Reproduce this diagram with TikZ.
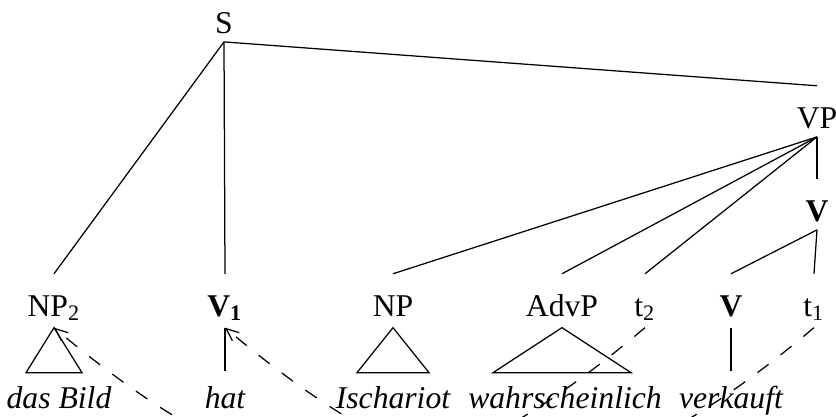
\documentclass[tikz,border=0pt]{standalone}
\usepackage{fontspec}
\setmainfont{Liberation Serif}
\usetikzlibrary{arrows.meta}
\newcommand{\treefont}{\fontsize{11.4}{14}\selectfont}
\tikzstyle{cat} = [inner sep=0pt, anchor=base, text height=15pt, text depth=3pt, font=\treefont]
\tikzstyle{leafcat} = [cat, text depth=4pt]
\tikzstyle{word} = [inner sep=0pt, anchor=base, text height=13pt, text depth=0pt, font=\treefont\itshape]
\tikzstyle{branch} = [line width=0.45pt]
\tikzstyle{movement} = [line width=0.45pt, -{Straight Barb[length=4.5pt, width=3.8pt]}, dash pattern=on 5pt off 5.5pt]

\begin{document}
\begin{tikzpicture}[x=0.36pt, y=-0.36pt]
    \useasboundingbox (0,0) rectangle (836,417);
    \clip (0,0) rectangle (836,417);

    % Upper categories
    \node[cat] (s) at (224,33) {S};
    \node[cat] (vp) at (817,128) {VP};
    \node[cat] (vbar) at (817,221) {\textbf{V}};

    % Lower categories
    \node[leafcat] (np2) at (54,316) {NP\textsubscript{2}};
    \node[leafcat] (v1) at (225,316) {\textbf{V\textsubscript{1}}};
    \node[leafcat] (np) at (393,316) {NP};
    \node[leafcat] (advp) at (562,316) {AdvP};
    \node[leafcat] (t2) at (645,316) {t\textsubscript{2}};
    \node[leafcat] (v) at (731,316) {\textbf{V}};
    \node[leafcat] (t1) at (814,316) {t\textsubscript{1}};

    % Words
    \node[word] (dasbild) at (59,408) {das Bild};
    \node[word] (hat) at (225,408) {hat};
    \node[word] (ischariot) at (393,408) {Ischariot};
    \node[word] (wahrscheinlich) at (565,408) {wahrscheinlich};
    \node[word] (verkauft) at (731,408) {verkauft};

    % Branches
    \draw[branch] (s.south) -- (np2.north);
    \draw[branch] (s.south) -- (v1.north);
    \draw[branch] (s.south) -- (vp.north);
    \draw[branch] (vp.south) -- (np.north);
    \draw[branch] (vp.south) -- (advp.north);
    \draw[branch] (vp.south) -- (t2.north);
    \draw[branch] (vp.south) -- (vbar.north);
    \draw[branch] (vbar.south) -- (v.north);
    \draw[branch] (vbar.south) -- (t1.north);
    \draw[branch] (v1.south) -- (v1.south |- hat.north);
    \draw[branch] (v.south) -- (v.south |- verkauft.north);

    % Roofs
    \draw[branch] (np2.south) -- ++(-28,45) -- ++(56,0) -- cycle;
    \draw[branch] (np.south) -- ++(-36,45) -- ++(72,0) -- cycle;
    \draw[branch] (advp.south) -- ++(-69,45) -- ++(138,0) -- cycle;

    % Movement
    \draw[movement] (t2.south) .. controls +(-230,193) and +(230,193) .. (np2.south);
    \draw[movement] (t1.south) .. controls +(-230,193) and +(230,193) .. (v1.south);
\end{tikzpicture}
\end{document}
